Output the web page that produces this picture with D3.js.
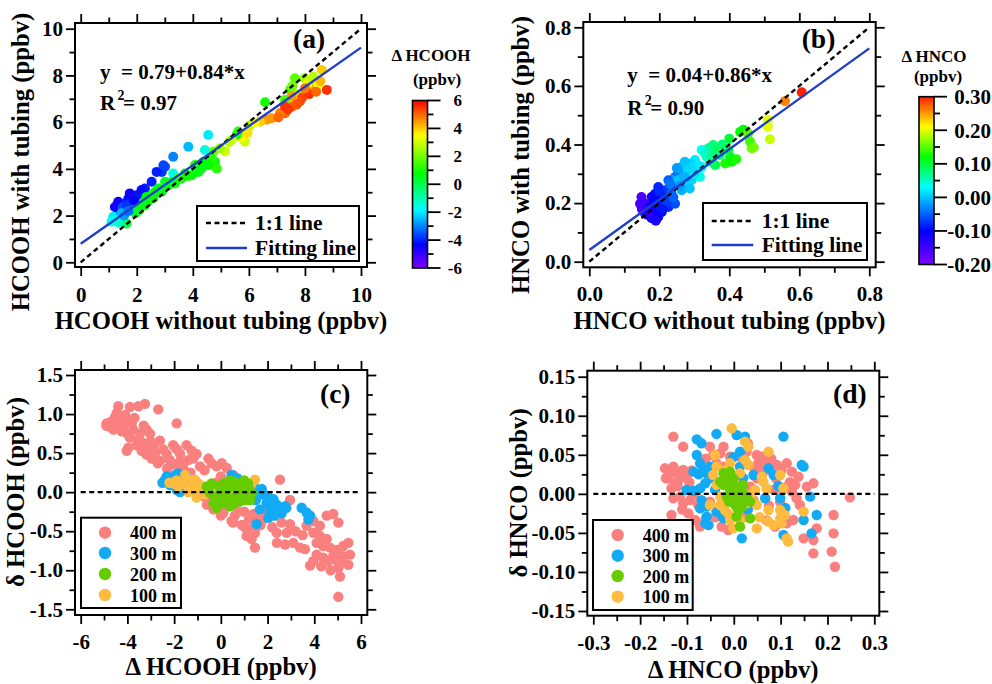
<!DOCTYPE html>
<html><head><meta charset="utf-8">
<script src="https://cdn.jsdelivr.net/npm/d3@7"></script>
<style>
body{margin:0;background:#fff}
svg{display:block;font-family:"Liberation Serif","Times New Roman",serif;font-weight:bold}
</style></head><body>
<svg id="chart" width="992" height="684"></svg>
<script>
// ---------------- DATA ----------------
// Panel (a): HCOOH without tubing (x), with tubing (y), Δ HCOOH (colour)
const aX = [8.78,8.6,8.35,7.98,7.64,8.24,8.47,7.98,7.82,7.53,7.29,7.11,6.81,6.63,6.4,6.58,7.29,7.47,7.76,7.53,7.29,8.1,8.3,7.9,8.15,8.4,8.55,7.7,7.4,7.05,8.0,7.55,
  6.04,5.86,5.74,5.56,5.62,5.39,5.15,4.97,4.73,6.2,5.95,5.3,4.55,4.43,3.84,3.3,3.01,2.89,2.71,2.53,2.29,2.17,3.3,2.95,
  4.79,4.67,4.55,4.31,4.2,4.08,3.96,3.72,3.6,3.48,3.36,3.13,3.01,2.77,2.65,2.53,2.35,2.23,2.06,1.94,1.82,1.76,2.12,2.89,3.24,4.37,4.85,4.1,3.85,2.4,2.6,1.64,2.1,1.95,2.3,1.5,
  1.34,1.46,1.58,1.7,1.82,2.0,1.58,1.34,1.22,1.16,1.1,1.4,1.3,1.5,1.65,1.9,1.75,1.45,1.25,1.35,1.55,1.7];
const aY = [7.38,8.23,7.88,7.88,7.88,7.5,7.6,7.3,6.88,6.66,6.38,6.38,6.17,6.1,6.02,6.85,6.95,7.38,7.2,7.1,6.66,7.65,7.95,7.05,7.2,7.3,7.75,6.75,6.55,6.2,7.45,7.55,
  5.87,5.16,5.38,5.45,5.6,5.24,4.74,4.88,4.74,6.0,5.55,5.15,5.45,4.81,4.95,4.52,4.09,3.87,3.87,3.45,3.16,3.09,3.8,4.15,
  4.3,4.45,4.16,4.02,3.87,4.16,3.73,3.8,3.59,3.59,3.37,3.3,3.45,3.16,3.02,2.87,2.8,2.66,2.59,2.44,2.38,2.23,2.38,3.02,3.45,4.3,4.02,3.95,3.7,2.6,2.75,1.66,2.24,2.1,2.45,1.75,
  2.59,2.44,2.52,2.73,2.8,2.87,2.23,2.23,2.37,1.95,1.74,1.95,2.45,2.35,2.45,2.65,2.95,2.1,1.8,1.7,2.0,2.2];
const aDelta = [5.5,4,3,2.5,1.8,4.5,3.5,5,5.2,5,5,4.8,4.5,4.5,4,1,1.5,1.5,3,4.5,5.5,3.2,2.8,5.3,5.5,5,4.2,5.2,5.5,5,4.8,2,
  2.5,3,3.5,1,1.2,3,3,2.5,2,3.5,3.8,2.8,-2,-1.5,-2.5,-3,-3.5,-3.8,-4,-4,-4,-4.2,-1.5,-3.6,
  1,1.2,0.8,0.8,0.5,1,0.8,0.5,0.8,1.5,0.6,0.8,0.4,0.5,0.8,0.6,0.8,0.6,0.4,0.6,0.3,-0.8,0.8,0.6,0.3,0.6,1.2,0.6,0.9,0.7,0.9,0.2,0.5,0.3,0.6,-0.2,
  -4.5,-4.3,-4,-4.2,-4,-4.1,-3,-4,-4.5,-2,-1.8,-2.2,-4.6,-3.5,-3.8,-4.3,-4.5,-2.5,-1.5,-1.2,-2.8,-3.2];
const aFit = [0.79, 0.84];   // intercept, slope

// Panel (b): HNCO without tubing (x), with tubing (y), Δ HNCO (colour)
const bX = [0.607,0.559,0.51,0.51,0.516,0.464,0.459,0.44,0.431,0.454,0.402,0.388,0.407,0.397,0.40,0.354,0.359,0.34,0.335,0.321,0.302,0.292,0.273,0.264,0.254,0.311,0.316,0.283,0.245,0.235,0.226,0.254,0.268,0.235,0.216,0.197,0.188,0.207,0.178,0.149,0.159,0.145,0.169,0.188,0.207,0.226,0.245,0.216,0.197,0.178,0.159,0.235,0.264,0.292,0.287,0.321,0.345,0.373,0.33,0.35,0.31,0.28,0.26,0.3,0.17,0.15,0.2,0.22,0.185,0.165,0.19,0.21,0.24,0.27,0.36,0.42,0.47,0.2,0.23,0.38,0.25,0.29];
const bY = [0.578,0.548,0.484,0.461,0.418,0.387,0.41,0.45,0.443,0.438,0.358,0.335,0.341,0.381,0.42,0.398,0.381,0.387,0.358,0.381,0.347,0.335,0.341,0.324,0.307,0.301,0.289,0.313,0.289,0.278,0.278,0.278,0.266,0.255,0.244,0.255,0.232,0.221,0.221,0.221,0.198,0.198,0.187,0.176,0.17,0.187,0.198,0.21,0.153,0.148,0.165,0.232,0.244,0.278,0.25,0.324,0.341,0.364,0.37,0.36,0.33,0.29,0.26,0.3,0.17,0.18,0.19,0.2,0.205,0.16,0.14,0.18,0.22,0.29,0.33,0.35,0.39,0.24,0.265,0.4,0.32,0.32];
const bDelta = [0.30,0.26,0.20,0.20,0.19,0.16,0.14,0.12,0.12,0.15,0.11,0.13,0.12,0.1,0.1,0.08,0.09,0.07,0.05,0.03,0.02,0.01,0.0,0.0,-0.02,0.03,0.04,0.01,-0.04,-0.01,-0.05,0.0,0.01,-0.06,-0.07,-0.08,-0.09,-0.1,-0.11,-0.16,-0.15,-0.15,-0.12,-0.11,-0.1,-0.08,-0.06,-0.09,-0.11,-0.12,-0.14,-0.04,-0.01,0.01,0.0,0.04,0.06,0.08,0.05,0.07,0.02,0.0,-0.02,0.02,-0.13,-0.15,-0.09,-0.07,-0.1,-0.13,-0.12,-0.09,-0.05,-0.01,0.09,0.13,0.16,-0.08,-0.04,0.08,-0.02,0.01];
const bFit = [0.04, 0.86];

// Panel (c): Δ HCOOH (x) vs δ HCOOH (y) by altitude
const c400X = [-4.39,-3.89,-3.25,-3.53,-2.68,-1.89,-4.89,-4.75,-4.6,-4.32,-4.18,-4.46,-4.1,-4.03,-3.82,-3.75,-3.46,-3.18,-3.03,-3.53,-3.32,-3.96,-4.03,-3.39,-3.18,-2.96,-2.89,-2.61,-2.47,-2.32,-2.04,-1.89,-1.75,-2.18,-1.96,-1.75,-1.47,-1.25,-1.04,-1.18,-0.89,-0.53,-0.18,0.25,0.53,0.04,2.53,-0.6,-0.32,0.11,0.53,0.11,0.46,1.03,1.25,1.1,1.46,1.32,1.46,1.89,2.39,2.6,2.82,2.96,2.75,3.1,3.39,2.96,3.67,3.96,4.24,4.53,4.81,5.03,3.96,4.24,4.53,4.1,4.38,4.67,4.96,5.24,5.46,4.81,4.38,3.96,3.82,4.6,5.03,5.46,5.24,5.1,5.03,4.96,5.53,-1.4,-0.4,
  -4.7,-4.55,-4.25,-4.0,-3.7,-3.9,-3.6,-3.1,-2.8,-2.6,-2.3,-3.0,-3.3,-4.4,-4.9,-2.7,-1.6,-1.3,-0.7,0.0,-0.2,-0.75,0.0,0.75,1.5,1.7,2.2,2.4,3.2,3.5,3.6,4.3,4.1,4.7,5.2,1.2,0.6,-0.5,0.9,1.0,1.4,1.8];
const c400Y = [1.10,1.09,1.13,1.10,1.06,0.88,0.88,0.84,0.80,0.90,0.84,1.01,0.99,0.92,0.88,0.80,0.75,0.80,0.75,0.67,0.63,0.57,0.53,0.53,0.48,0.43,0.60,0.66,0.55,0.49,0.60,0.55,0.49,0.41,0.35,0.39,0.60,0.53,0.49,0.43,0.33,0.43,0.33,0.31,0.22,0.37,0.16,-0.16,-0.22,-0.26,-0.39,-0.14,-0.37,-0.45,-0.48,-0.56,-0.52,-0.6,-0.71,-0.24,-0.52,-0.39,-0.52,-0.41,-0.67,-0.65,-0.71,-0.1,-0.43,-0.37,-0.43,-0.3,-0.28,-0.39,-0.52,-0.56,-0.6,-0.65,-0.69,-0.71,-0.74,-0.69,-0.65,-0.82,-0.84,-0.88,-0.94,-0.88,-0.97,-0.93,-0.82,-1.08,-1.34,-0.88,-0.8,0.41,0.37,
  0.90,0.95,0.78,0.75,0.95,0.70,0.60,0.58,0.50,0.40,0.30,0.65,0.85,0.82,0.85,0.37,0.30,0.25,0.28,0.20,0.12,-0.05,-0.3,-0.25,-0.3,-0.42,-0.45,-0.65,-0.5,-0.55,-0.73,-0.95,-0.8,-1.0,-0.9,-0.35,-0.3,-0.1,-0.42,-0.25,-0.28,-0.35];
const c300X = [-2.39,-2.32,-2.18,-2.04,-1.82,-1.68,-1.89,-1.47,0.46,0.96,1.75,1.82,1.96,2.17,2.39,2.53,2.75,2.1,1.53,2.03,3.46,3.67,3.82,1.67,2.25,1.39,-2.5,-2.2,-1.95,-1.6,-1.75,-2.25,1.2,0.7,2.4,2.6,2.8,3.75,1.5,1.6,2.0,2.3,0.5];
const c300Y = [0.16,0.20,0.09,0.13,0.24,0.18,0.03,0.20,0.22,0.13,0.04,-0.03,-0.14,-0.18,-0.16,-0.22,-0.18,-0.26,-0.41,-0.33,-0.2,-0.26,-0.3,-0.22,-0.09,0.11,0.12,0.18,0.22,0.12,0.0,0.15,0.05,0.18,-0.25,-0.27,-0.2,-0.35,-0.1,0.0,-0.05,-0.3,0.15];
const c200X = [-0.47,-0.6,-0.4,-0.25,-0.03,-0.03,0.11,0.25,0.39,0.46,0.53,0.6,0.75,0.89,0.96,1.1,1.25,1.32,1.17,-0.32,-0.18,0.18,0.39,0.82,1.03,-0.5,0.3,0.65,1.0,0.15,-0.1,0.55,1.2,0.8];
const c200Y = [-0.01,0.07,0.11,-0.06,0.03,-0.1,0.11,-0.03,-0.18,-0.1,0.07,0.13,0.01,-0.06,0.07,0.01,-0.1,-0.01,0.11,-0.14,-0.2,-0.14,0.15,0.09,-0.1,0.05,0.05,-0.05,0.15,-0.05,0.08,-0.15,0.04,-0.12];
const c100X = [-2.04,-1.82,-1.6,-1.53,-1.32,-1.11,-0.96,-1.18,-1.25,-1.04,-0.89,1.46,1.17,0.89,0.25,-2.2,-1.9,-0.8,-1.4,-0.7,1.3];
const c100Y = [0.11,0.07,0.11,0.22,0.16,0.16,0.11,0.07,0.03,-0.07,0.03,0.16,-0.07,-0.01,0.11,0.12,0.15,0.08,0.0,-0.03,0.1];

// Panel (d): Δ HNCO (x) vs δ HNCO (y) by altitude
const d400X = [-0.129,-0.108,-0.147,-0.136,-0.129,-0.122,-0.14,-0.115,-0.126,-0.108,-0.101,-0.133,-0.129,-0.115,-0.108,-0.093,-0.086,-0.076,-0.133,-0.097,-0.083,-0.061,-0.072,-0.051,-0.044,-0.051,-0.022,-0.029,-0.008,-0.022,-0.037,-0.012,-0.026,0.0133,0.0275,0.049,0.06,0.074,0.052,0.0453,0.063,0.077,0.092,0.102,0.113,0.124,0.138,0.156,0.17,0.131,0.113,0.099,0.124,0.134,0.141,0.085,0.049,0.035,0.042,0.099,0.088,0.07,0.113,0.127,0.149,0.17,0.177,0.213,0.213,0.209,0.216,0.17,0.248,-0.001,
  -0.118,-0.145,-0.12,-0.095,-0.11,-0.09,0.03,0.065,0.09,0.105,0.075,0.12,-0.06,0.02,-0.04,0.08];
const d400Y = [0.0733,0.0604,0.0327,0.0284,0.0348,0.0263,0.0199,0.0199,0.0135,0.0306,0.022,0.007,-0.0057,-0.0036,-0.0121,-0.0079,-0.0015,-0.0143,-0.0271,-0.025,-0.0335,-0.0335,-0.042,-0.01,0.0498,0.0604,0.0604,0.0519,0.0476,0.0348,0.0391,-0.0463,-0.042,0.0476,0.054,0.0498,0.0476,0.0434,0.039,0.0306,0.0284,0.0306,0.037,0.0306,0.0391,0.0284,0.022,0.0092,0.0135,0.0114,0.0092,0.007,0.0028,-0.0057,-0.0143,0.005,0.0199,0.0092,-0.008,-0.0106,-0.042,-0.034,-0.0378,-0.0335,-0.057,-0.0591,-0.0442,-0.0271,-0.0506,-0.074,-0.0933,-0.0762,-0.0045,0.005,
  0.028,0.02,0.01,0.015,-0.02,0.03,0.065,0.04,0.02,-0.02,-0.015,0.015,0.045,-0.03,-0.03,0.045];
const d300X = [-0.079,-0.069,-0.037,0.006,0.024,0.106,-0.079,-0.072,0.0133,-0.001,-0.086,-0.065,-0.058,-0.051,-0.061,-0.072,-0.101,-0.086,-0.069,-0.072,-0.058,-0.037,-0.058,-0.061,-0.054,-0.026,-0.022,0.017,0.074,0.085,0.099,0.067,0.145,0.149,0.163,0.177,0.149,0.166,0.106,0.042,0.0133,-0.022,-0.045,-0.075,-0.04,0.03,0.02,0.11,0.095];
const d300Y = [0.0698,0.0647,0.0767,0.0754,0.0733,0.0733,0.0498,0.0391,0.054,0.047,0.0284,0.0306,0.0263,0.0348,0.0135,0.007,0.0049,0.004,-0.008,-0.0186,-0.0164,-0.0228,-0.0292,-0.0378,-0.04,-0.0271,-0.0314,-0.057,0.0327,0.0242,-0.0057,-0.0057,0.037,0.0348,-0.0036,-0.0271,-0.0335,-0.0506,-0.0527,0.0242,0.0348,-0.004,0.02,0.025,0.005,-0.02,0.02,-0.018,0.01];
const d200X = [-0.022,-0.008,-0.015,-0.001,0.006,-0.008,-0.022,0.0133,-0.001,0.0133,0.0275,0.035,0.003,0.0097,0.006,0.0133,0.035,-0.029,0.02,-0.0045,-0.015,0.017,0.005,0.02,-0.01];
const d200Y = [0.0263,0.0284,0.0177,0.0199,0.0092,0.005,0.0114,0.0028,-0.0057,-0.008,-0.0036,-0.01,-0.0143,-0.0207,-0.0292,-0.042,-0.0314,0.0156,0.0114,0.0114,-0.004,-0.0164,0.0,0.0,-0.01];
const d100X = [-0.0045,0.024,0.031,0.074,-0.04,-0.037,-0.008,0.0133,0.031,0.024,0.06,0.063,0.07,0.099,0.106,-0.044,-0.037,-0.029,-0.051,-0.029,-0.019,-0.012,-0.008,-0.001,0.0133,0.0275,0.038,0.0453,0.049,0.049,0.074,0.074,0.099,0.099,0.102,0.109,0.113,0.116,0.149,0.035,-0.02,0.0,-0.015,0.055,0.085];
const d100Y = [0.0839,0.0668,0.0604,0.054,0.0498,0.0348,0.0391,0.0263,0.037,0.0434,0.022,0.0156,0.007,0.0242,0.007,0.0242,0.0114,-0.0036,-0.0143,-0.0143,-0.0207,-0.025,-0.0335,-0.0442,-0.0335,-0.0122,-0.008,0.005,-0.0442,-0.0143,-0.0207,-0.0356,-0.0207,-0.0314,-0.0378,-0.0271,-0.057,-0.0612,-0.0228,-0.0015,0.03,0.015,-0.005,-0.03,-0.04];

const altitudes = ["400 m", "300 m", "200 m", "100 m"];

// tick values / labels
const aTicks = [0,2,4,6,8,10], aMinor = [1,3,5,7,9];
const bTicks = [0,0.2,0.4,0.6,0.8], bMinor = [0.1,0.3,0.5,0.7];
const cXTicks = [-6,-4,-2,0,2,4,6], cXMinor = [-5,-3,-1,1,3,5];
const cYTicks = [-1.5,-1,-0.5,0,0.5,1,1.5], cYMinor = [-1.25,-0.75,-0.25,0.25,0.75,1.25];
const dXTicks = [-0.3,-0.2,-0.1,0,0.1,0.2,0.3], dXMinor = [-0.25,-0.15,-0.05,0.05,0.15,0.25];
const dYTicks = [-0.15,-0.1,-0.05,0,0.05,0.1,0.15], dYMinor = [-0.125,-0.075,-0.025,0.025,0.075,0.125];
const cbATicks = [-6,-4,-2,0,2,4,6], cbAMinor = [-5,-3,-1,1,3,5];
const cbBTicks = [-0.2,-0.1,0,0.1,0.2,0.3], cbBMinor = [-0.15,-0.05,0.05,0.15,0.25];

// ---------------- DRAWING ----------------
const svg = d3.select("#chart");
const defs = svg.append("defs");
const hy = f => d => f(d).replace("\u2212", "-");

const colA = d3.scaleLinear().domain([-6,-4.3,-1.8,0.8,3.5,6])
  .range(["#8000ff","#0000ff","#00ffff","#00ff00","#ffff00","#ff0000"]).clamp(true);
const colB = d3.scaleLinear().domain([-0.2,-0.1,0.03,0.12,0.21,0.3])
  .range(["#8000ff","#0000ff","#00ffff","#00ff00","#ffff00","#ff2000"]).clamp(true);
const altColors = ["#fa8080","#12aaf5","#66cc00","#fdbb40"];

function axisPart(g, gen, vals, size, fmt, pad, fs){
  const ax = gen.tickValues(vals).tickSize(size).tickSizeOuter(0).tickPadding(pad)
    .tickFormat(fmt ? fmt : () => "");
  const a = g.append("g").call(ax);
  a.select(".domain").remove();
  a.attr("font-size", null).attr("font-family", null);
  a.selectAll("line").attr("stroke", "#000").attr("stroke-width", 1.8);
  a.selectAll("text").attr("font-size", fs).attr("fill", "#000");
  return a;
}

function frame(p){
  const g = svg.append("g");
  const x = d3.scaleLinear().domain(p.xDom).range(p.xRange);
  const y = d3.scaleLinear().domain(p.yDom).range(p.yRange);
  const [L, R, T, B] = p.box;
  const fs = 21;
  axisPart(g.append("g").attr("transform", `translate(${L},0)`), d3.axisLeft(y), p.yTicks, 9, p.yFmt, 3, fs);
  axisPart(g.append("g").attr("transform", `translate(${L},0)`), d3.axisLeft(y), p.yMinor, 5.5, null, 3, fs);
  axisPart(g.append("g").attr("transform", `translate(${R},0)`), d3.axisRight(y), p.yTicks, 9, null, 3, fs);
  axisPart(g.append("g").attr("transform", `translate(${R},0)`), d3.axisRight(y), p.yMinor, 5.5, null, 3, fs);
  axisPart(g.append("g").attr("transform", `translate(0,${B})`), d3.axisBottom(x), p.xTicks, 9, p.xFmt, p.xPad, fs);
  axisPart(g.append("g").attr("transform", `translate(0,${B})`), d3.axisBottom(x), p.xMinor, 5.5, null, 3, fs);
  axisPart(g.append("g").attr("transform", `translate(0,${T})`), d3.axisTop(x), p.xTicks, 9, null, 3, fs);
  axisPart(g.append("g").attr("transform", `translate(0,${T})`), d3.axisTop(x), p.xMinor, 5.5, null, 3, fs);
  g.append("text").attr("x", (L+R)/2).attr("y", p.xTitleY).attr("text-anchor","middle")
    .attr("font-size", p.titleFs).text(p.xTitle);
  g.append("text").attr("transform", `translate(${p.yTitleX},${p.yTitleC}) rotate(-90)`)
    .attr("text-anchor","middle").attr("font-size", p.titleFs).text(p.yTitle);
  g.append("text").attr("x", p.lab[0]).attr("y", p.lab[1]).attr("font-size", 27.5).text(p.label);
  return {g, x, y};
}

function box(g, p){
  const [L, R, T, B] = p.box;
  g.append("rect").attr("x", L).attr("y", T).attr("width", R-L).attr("height", B-T)
    .attr("fill","none").attr("stroke","#000").attr("stroke-width", 2);
}

// ----- scatter panels (a) and (b) -----
function scatterPanel(p, X, Y, D, col, fit, lim, eq, r2, leg){
  const {g, x, y} = frame(p);
  g.append("g").selectAll("circle").data(d3.zip(X, Y, D)).join("circle")
    .attr("cx", d => x(d[0])).attr("cy", d => y(d[1])).attr("r", 5)
    .attr("fill", d => col(d[2]));
  g.append("line").attr("x1", x(0)).attr("y1", y(0)).attr("x2", x(lim)).attr("y2", y(lim))
    .attr("stroke","#000").attr("stroke-width", 2.4).attr("stroke-dasharray","5,3.5");
  g.append("line").attr("x1", x(0)).attr("y1", y(fit[0])).attr("x2", x(lim)).attr("y2", y(fit[0] + fit[1]*lim))
    .attr("stroke","#1f3fc8").attr("stroke-width", 2.4);
  g.append("text").attr("x", eq[0]).attr("y", eq[1]).attr("font-size", 21)
    .style("white-space","pre").text(`y  = ${fit[0].toFixed(2)}+${fit[1].toFixed(2)}*x`);
  g.append("text").attr("x", eq[0]).attr("y", eq[2]).attr("font-size", 21).text("R");
  g.append("text").attr("x", eq[0]+17.5).attr("y", eq[2]-10).attr("font-size", 14).text("2");
  g.append("text").attr("x", eq[0]+23).attr("y", eq[2]).attr("font-size", 21).text("= " + r2);
  const [lx0, ly0, lx1, ly1, sx0, sx1, tx, r1, r2y] = leg;
  g.append("rect").attr("x", lx0).attr("y", ly0).attr("width", lx1-lx0).attr("height", ly1-ly0)
    .attr("fill","#fff").attr("stroke","#000").attr("stroke-width", 2);
  g.append("line").attr("x1", sx0).attr("x2", sx1).attr("y1", r1).attr("y2", r1)
    .attr("stroke","#000").attr("stroke-width", 2.4).attr("stroke-dasharray","5,3.5");
  g.append("line").attr("x1", sx0).attr("x2", sx1).attr("y1", r2y).attr("y2", r2y)
    .attr("stroke","#1f3fc8").attr("stroke-width", 2.4);
  g.append("text").attr("x", tx).attr("y", r1 + 7).attr("font-size", 21.5).text("1:1 line");
  g.append("text").attr("x", tx).attr("y", r2y + 7).attr("font-size", 21.5).text("Fitting line");
  box(g, p);
}

scatterPanel({
  box:[75,367,23,267], xDom:[0,10], xRange:[80.7,361], yDom:[0,10], yRange:[262.3,28.7],
  xTicks:aTicks, xMinor:aMinor, yTicks:aTicks, yMinor:aMinor, xFmt:d3.format("d"), yFmt:d3.format("d"), xPad:11,
  titleFs:24.7, xTitle:"HCOOH without tubing (ppbv)", xTitleY:329, yTitle:"HCOOH with tubing (ppbv)", yTitleX:29, yTitleC:162,
  label:"(a)", lab:[293,48]
}, aX, aY, aDelta, colA, aFit, 10, [100,79,110], "0.97", [197,206,359,261,206,247,255,223,248]);

scatterPanel({
  box:[583.3,875.7,22,267.3], xDom:[0,0.8], xRange:[589.3,869.3], yDom:[0,0.8], yRange:[261.7,27.3],
  xTicks:bTicks, xMinor:bMinor, yTicks:bTicks, yMinor:bMinor, xFmt:d3.format(".1f"), yFmt:d3.format(".1f"), xPad:10,
  titleFs:24.7, xTitle:"HNCO without tubing (ppbv)", xTitleY:329, yTitle:"HNCO with tubing (ppbv)", yTitleX:529, yTitleC:155,
  label:"(b)", lab:[801.7,48]
}, bX, bY, bDelta, colB, bFit, 0.8, [627.3,81.7,115], "0.90", [703,203,867,260,711.7,753.3,761.7,221,245]);

// ----- colour bars -----
function colorBar(id, col, dom, bx, yTop, yBot, ticks, minor, fmt, labX, labFs, t1, t2){
  const grad = defs.append("linearGradient").attr("id", id)
    .attr("x1",0).attr("y1",1).attr("x2",0).attr("y2",0);
  d3.range(0, 1.0001, 0.02).forEach(t => {
    grad.append("stop").attr("offset", t).attr("stop-color", col(dom[0] + t*(dom[1]-dom[0])));
  });
  const g = svg.append("g");
  const y = d3.scaleLinear().domain(dom).range([yBot, yTop]);
  g.append("rect").attr("x", bx[0]).attr("y", yTop).attr("width", bx[1]-bx[0]).attr("height", yBot-yTop)
    .attr("fill", `url(#${id})`).attr("stroke","#000").attr("stroke-width", 1.6);
  g.selectAll("line.maj").data(ticks).join("line").attr("class","maj")
    .attr("x1", bx[1]).attr("x2", bx[1] + 13).attr("y1", d => y(d)).attr("y2", d => y(d))
    .attr("stroke","#000").attr("stroke-width", 1.8);
  g.selectAll("line.min").data(minor).join("line").attr("class","min")
    .attr("x1", bx[1]).attr("x2", bx[1] + 6).attr("y1", d => y(d)).attr("y2", d => y(d))
    .attr("stroke","#000").attr("stroke-width", 1.8);
  g.selectAll("text.tl").data(ticks).join("text").attr("class","tl")
    .attr("x", labX).attr("y", d => y(d)).attr("dy","0.35em").attr("text-anchor","end")
    .attr("font-size", labFs).text(fmt);
  g.append("text").attr("x", t1[0]).attr("y", t1[1]).attr("text-anchor","middle").attr("font-size", 17).text(t1[2]);
  g.append("text").attr("x", t2[0]).attr("y", t2[1]).attr("text-anchor","middle").attr("font-size", 17).text(t2[2]);
}
colorBar("gradA", colA, [-6,6], [412.5,427.5], 100.5, 268, cbATicks, cbAMinor, hy(d3.format("d")), 462, 17,
  [431,60.5,"\u0394 HCOOH"], [437,84.5,"(ppbv)"]);
colorBar("gradB", colB, [-0.2,0.3], [919,934], 96.7, 264.5, cbBTicks, cbBMinor, hy(d3.format(".2f")), 991, 21,
  [934,61.5,"\u0394 HNCO"], [938,81.5,"(ppbv)"]);

// ----- altitude panels (c) and (d) -----
function altPanel(p, series, zeroLim, leg){
  const {g, x, y} = frame(p);
  const order = [0,1,3,2];
  order.forEach(i => {
    const [X, Y] = series[i];
    g.append("g").selectAll("circle").data(d3.zip(X, Y)).join("circle")
      .attr("cx", d => x(d[0])).attr("cy", d => y(d[1])).attr("r", 5.2).attr("fill", altColors[i]);
  });
  g.append("line").attr("x1", x(zeroLim[0])).attr("x2", x(zeroLim[1])).attr("y1", y(0)).attr("y2", y(0))
    .attr("stroke","#000").attr("stroke-width", 2.4).attr("stroke-dasharray","5,3.5");
  const [lx0, ly0, lx1, ly1, cx, tx, rows] = leg;
  g.append("rect").attr("x", lx0).attr("y", ly0).attr("width", lx1-lx0).attr("height", ly1-ly0)
    .attr("fill","#fff").attr("stroke","#000").attr("stroke-width", 2);
  altitudes.forEach((a, i) => {
    g.append("circle").attr("cx", cx).attr("cy", rows[i]).attr("r", 6.2).attr("fill", altColors[i]);
    g.append("text").attr("x", tx).attr("y", rows[i] + 6.5).attr("font-size", 18).text(a);
  });
  box(g, p);
}

altPanel({
  box:[75,367.3,370,615], xDom:[-6,6], xRange:[80.7,361], yDom:[-1.5,1.5], yRange:[609.3,375],
  xTicks:cXTicks, xMinor:cXMinor, yTicks:cYTicks, yMinor:cYMinor, xFmt:hy(d3.format("d")), yFmt:hy(d3.format(".1f")), xPad:10,
  titleFs:24.7, xTitle:"\u0394 HCOOH (ppbv)", xTitleY:675, yTitle:"\u03b4 HCOOH (ppbv)", yTitleX:24, yTitleC:492,
  label:"(c)", lab:[320,403]
}, [[c400X,c400Y],[c300X,c300Y],[c200X,c200Y],[c100X,c100Y]], [-6,6],
  [81,517.7,181,608,105,130,[532.7,553,574,595]]);

altPanel({
  box:[587.3,879.3,370.7,615.7], xDom:[-0.3,0.3], xRange:[593.3,874.3], yDom:[-0.15,0.15], yRange:[611,376.7],
  xTicks:dXTicks, xMinor:dXMinor, yTicks:dYTicks, yMinor:dYMinor, xFmt:hy(d3.format(".1f")), yFmt:hy(d3.format(".2f")), xPad:10.5,
  titleFs:24.7, xTitle:"\u0394 HNCO (ppbv)", xTitleY:678, yTitle:"\u03b4 HNCO (ppbv)", yTitleX:527, yTitleC:493,
  label:"(d)", lab:[833,403]
}, [[d400X,d400Y],[d300X,d300Y],[d200X,d200Y],[d100X,d100Y]], [-0.3,0.3],
  [593,520,692.7,610,617.7,642.7,[535,555.7,576,596.7]]);
</script>
</body></html>
